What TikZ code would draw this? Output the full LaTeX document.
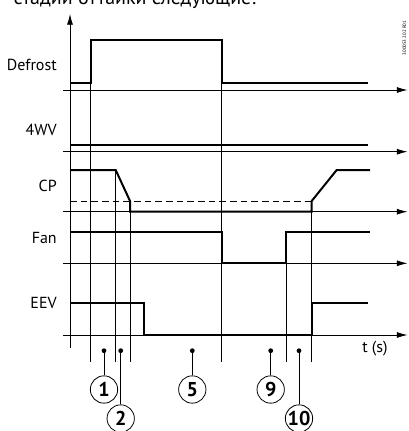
\documentclass[tikz,border=0pt]{standalone}
\usepackage{fontspec}
\setmainfont{PT Sans}
\usetikzlibrary{arrows.meta}

\begin{document}
\begin{tikzpicture}[x=0.75pt, y=-0.75pt,
		axis/.style={-{Latex[length=8pt,width=4.5pt]}, line width=0.6pt},
		guide/.style={line width=0.5pt},
		sig/.style={line width=1.5pt, line join=miter},
		lbl/.style={anchor=east, inner sep=0pt, font=\fontsize{12}{14}\selectfont},
		dot/.style={circle, fill, inner sep=0pt, minimum size=3.6pt},
		num/.style={circle, draw, line width=0.6pt, minimum size=20.5pt, inner sep=0pt,
			font=\bfseries\fontsize{15}{15}\selectfont}]
	\clip (0,0) rectangle (408,431);
	% cut-off line of text above the chart
	\node[anchor=base east, inner sep=0pt, font=\fontsize{15}{17}\selectfont] (intro)
		at (256,4.5) {стадии оттайки следующие:};
	\node[rotate=90, inner sep=0pt, font=\fontsize{3.6}{4}\selectfont] (code)
		at (404.5,38) {300053 202 R01};
	% axes
	\draw[axis] (70,348.3) -- (70,14);
	\foreach \y in {90,151.7,211.7,263.3,335}
		\draw[axis] (63.3,\y) -- (407.5,\y);
	% event lines
	\draw[guide] (90.7,40) -- (90.7,361.7);
	\draw[guide] (115.7,170) -- (115.7,361.7);
	\draw[guide] (130,201) -- (130,361.7);
	\draw[guide] (221.7,40) -- (221.7,361.7);
	\draw[guide] (286,231.7) -- (286,361.7);
	\draw[guide] (311.7,201) -- (311.7,361.7);
	% signals
	\draw[sig] (70,83.3) -| (90.7,40) -| (221.7,83.3) -- (368.3,83.3);
	\draw[sig] (70,145) -- (368.3,145);
	\draw[guide, dash pattern=on 5pt off 3pt] (70,201) -- (311.7,201);
	\draw[sig] (70,170) -- (115.7,170) -- (130,201) -- (130,211.7) -- (311.7,211.7)
		-- (311.7,201) -- (336.7,170) -- (370,170);
	\draw[sig] (70,231.7) -| (221.7,263.3) -| (286,231.7) -- (370,231.7);
	\draw[sig] (70,302.7) -| (144,335) -| (311.7,302.7) -- (368.3,302.7);
	% labels
	\node[lbl] (defrost) at (57,65) {Defrost};
	\node[lbl] (wv) at (57,130) {4WV};
	\node[lbl] (cp) at (57,186) {CP};
	\node[lbl] (fan) at (57,238) {Fan};
	\node[lbl] (eev) at (57,302.7) {EEV};
	\node[lbl, anchor=west] (time) at (362,349) {t (s)};
	% stage markers
	\node[dot] (d1) at (104,350.7) {};
	\node[dot] (d2) at (120.7,350.7) {};
	\node[dot] (d5) at (192.3,350.7) {};
	\node[dot] (d9) at (270.7,350.7) {};
	\node[dot] (d10) at (299,350.7) {};
	\node[num] (n1) at (104,389.5) {1};
	\node[num] (n2) at (120.7,418.5) {2};
	\node[num] (n5) at (192.3,389.5) {5};
	\node[num] (n9) at (270.7,389.5) {9};
	\node[num] (n10) at (299,418.5) {10};
	\foreach \k in {1,2,5,9,10}
		\draw[guide] (d\k) -- (n\k);
\end{tikzpicture}
\end{document}
